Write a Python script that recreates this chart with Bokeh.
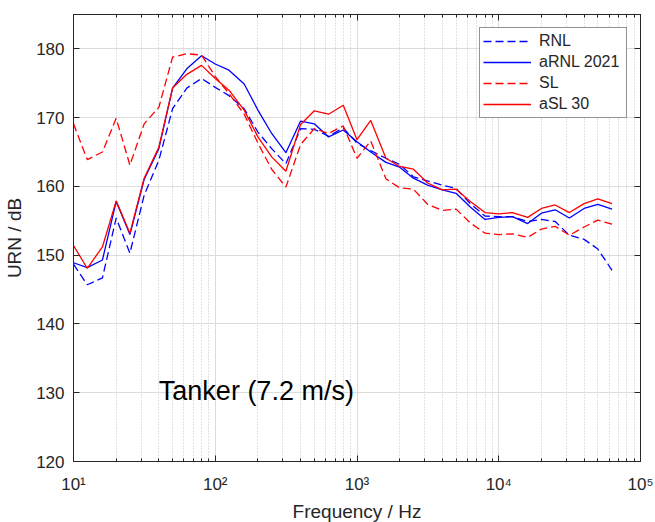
from bokeh.plotting import figure
from bokeh.models import Range1d, FixedTicker, LogAxis, LinearAxis, Label, Legend, LegendItem, ColumnDataSource
from bokeh.embed import file_html
from bokeh.resources import INLINE

freqs = [10, 12.5, 16, 20, 25, 31.5, 40, 50, 63, 80, 100, 125, 160, 200, 250, 315, 400, 500,
         630, 800, 1000, 1250, 1600, 2000, 2500, 3150, 4000, 5000, 6300, 8000, 10000, 12500,
         16000, 20000, 25000, 31500, 40000, 50000, 63000]

rnl = [148.7, 145.7, 146.7, 155.4, 150.3, 158.7, 163.8, 171.3, 174.3, 175.7, 174.4, 173.2, 171.3,
       167.9, 165.5, 163.3, 168.4, 168.3, 167.3, 168.5, 166.3, 165.2, 164.1, 163.2, 161.4, 160.8,
       160.2, 159.7, 157.5, 155.7, 155.6, 155.6, 154.9, 155.2, 154.9, 152.9, 152.3, 150.9, 147.8]

arnl = [148.9, 148.2, 149.3, 157.8, 153.0, 161.0, 165.5, 174.3, 177.1, 179.0, 177.8, 176.9, 174.9,
        171.1, 167.7, 164.9, 169.5, 169.1, 167.2, 168.2, 166.5, 165.0, 163.5, 162.8, 161.2, 160.2,
        159.5, 159.0, 157.0, 155.2, 155.5, 155.6, 154.6, 156.1, 156.6, 155.4, 156.8, 157.4, 156.7]

sl = [169.1, 163.9, 165.0, 169.9, 163.1, 169.1, 171.5, 178.8, 179.3, 179.1, 176.0, 173.5, 170.5,
      166.3, 162.5, 159.9, 166.1, 168.4, 167.7, 168.8, 164.1, 166.6, 161.1, 159.8, 159.6, 157.4,
      156.5, 156.7, 154.7, 153.2, 153.0, 153.1, 152.6, 153.8, 154.2, 152.9, 154.1, 155.1, 154.5]

asl = [151.4, 148.1, 151.2, 157.9, 153.2, 161.2, 165.7, 174.3, 176.3, 177.6, 175.7, 174.0, 171.1,
       167.2, 164.3, 162.2, 169.0, 171.0, 170.5, 171.8, 166.8, 169.6, 164.1, 162.9, 162.5, 160.5,
       159.5, 159.6, 157.8, 156.2, 156.0, 156.2, 155.5, 156.8, 157.3, 156.2, 157.5, 158.2, 157.5]

x_ticks = [10, 100, 1000, 10000, 100000]
x_tick_labels = ["10\u00b9", "10\u00b2", "10\u00b3", "10\u2074", "10\u2075"]
y_ticks = [120, 130, 140, 150, 160, 170, 180]

FONT = "Liberation Sans"
AX = "#262626"

p = figure(x_axis_type="log", output_backend="svg", toolbar_location=None,
           frame_width=567, frame_height=447,
           min_border_left=73, min_border_right=15, min_border_top=14, min_border_bottom=60,
           x_range=Range1d(10, 100000), y_range=Range1d(120, 185))
p.background_fill_color = "white"
p.border_fill_color = "white"
p.outline_line_color = AX
p.outline_line_width = 1

src = ColumnDataSource(dict(f=freqs, rnl=rnl, arnl=arnl, sl=sl, asl=asl))
r1 = p.line("f", "rnl", source=src, line_color="#0000ff", line_width=1.3, line_dash="8 4")
r2 = p.line("f", "arnl", source=src, line_color="#0000ff", line_width=1.3)
r3 = p.line("f", "sl", source=src, line_color="#ff0000", line_width=1.3, line_dash="8 4")
r4 = p.line("f", "asl", source=src, line_color="#ff0000", line_width=1.3)

minor = [m * 10 ** e for e in range(1, 5) for m in range(2, 10)]

xa = p.xaxis[0]
xa.ticker = FixedTicker(ticks=x_ticks, minor_ticks=minor)
xa.major_label_overrides = {t: l for t, l in zip(x_ticks, x_tick_labels)}
ya = p.yaxis[0]
ya.ticker = FixedTicker(ticks=y_ticks)

for ax in (xa, ya):
    ax.axis_line_color = AX
    ax.major_tick_line_color = AX
    ax.minor_tick_line_color = AX
    ax.major_tick_in = 6
    ax.major_tick_out = 0
    ax.minor_tick_in = 3
    ax.minor_tick_out = 0
    ax.major_label_text_font = FONT
    ax.major_label_text_font_size = "17px"
    ax.major_label_text_color = AX
    ax.axis_label_text_font = FONT
    ax.axis_label_text_font_size = "19px"
    ax.axis_label_text_font_style = "normal"
    ax.axis_label_text_color = AX
ya.minor_tick_line_color = None
xa.axis_label = "Frequency / Hz"
ya.axis_label = "URN / dB"
xa.major_label_standoff = 13
xa.axis_label_standoff = 4
ya.major_label_standoff = 9
ya.axis_label_standoff = 8

# box ticks on top and right (labels hidden)
top = LogAxis(ticker=FixedTicker(ticks=x_ticks, minor_ticks=minor),
              major_label_text_font_size="2px", major_label_text_alpha=0, major_label_standoff=0,
              major_tick_in=6, major_tick_out=0, minor_tick_in=3, minor_tick_out=0,
              axis_line_color=AX, major_tick_line_color=AX, minor_tick_line_color=AX)
right = LinearAxis(ticker=FixedTicker(ticks=y_ticks),
                   major_label_text_font_size="2px", major_label_text_alpha=0, major_label_standoff=0,
                   major_tick_in=6, major_tick_out=0, minor_tick_line_color=None,
                   axis_line_color=AX, major_tick_line_color=AX)
p.add_layout(top, "above")
p.add_layout(right, "right")

p.xgrid.grid_line_color = "#dcdcdc"
p.xgrid.grid_line_width = 1
p.xgrid.minor_grid_line_color = "#c4c4c4"
p.xgrid.minor_grid_line_dash = "1 2"
p.ygrid.grid_line_color = "#dcdcdc"
p.ygrid.grid_line_width = 1

legend = Legend(items=[LegendItem(label="RNL", renderers=[r1]),
                       LegendItem(label="aRNL 2021", renderers=[r2]),
                       LegendItem(label="SL", renderers=[r3]),
                       LegendItem(label="aSL 30", renderers=[r4])],
                location="top_right", margin=13, padding=3, spacing=1,
                glyph_width=48, glyph_height=20, label_height=20, label_width=84,
                label_standoff=8, label_text_font=FONT, label_text_font_size="16px",
                label_text_color=AX, border_line_color=AX, border_line_width=1,
                background_fill_color="white", background_fill_alpha=1)
p.add_layout(legend, "center")

p.add_layout(Label(x=40, y=130.2, text="Tanker (7.2 m/s)", text_font=FONT,
                   text_font_size="27px", text_color="black", text_baseline="alphabetic"))

open("out.html", "w").write(file_html(p, INLINE))
